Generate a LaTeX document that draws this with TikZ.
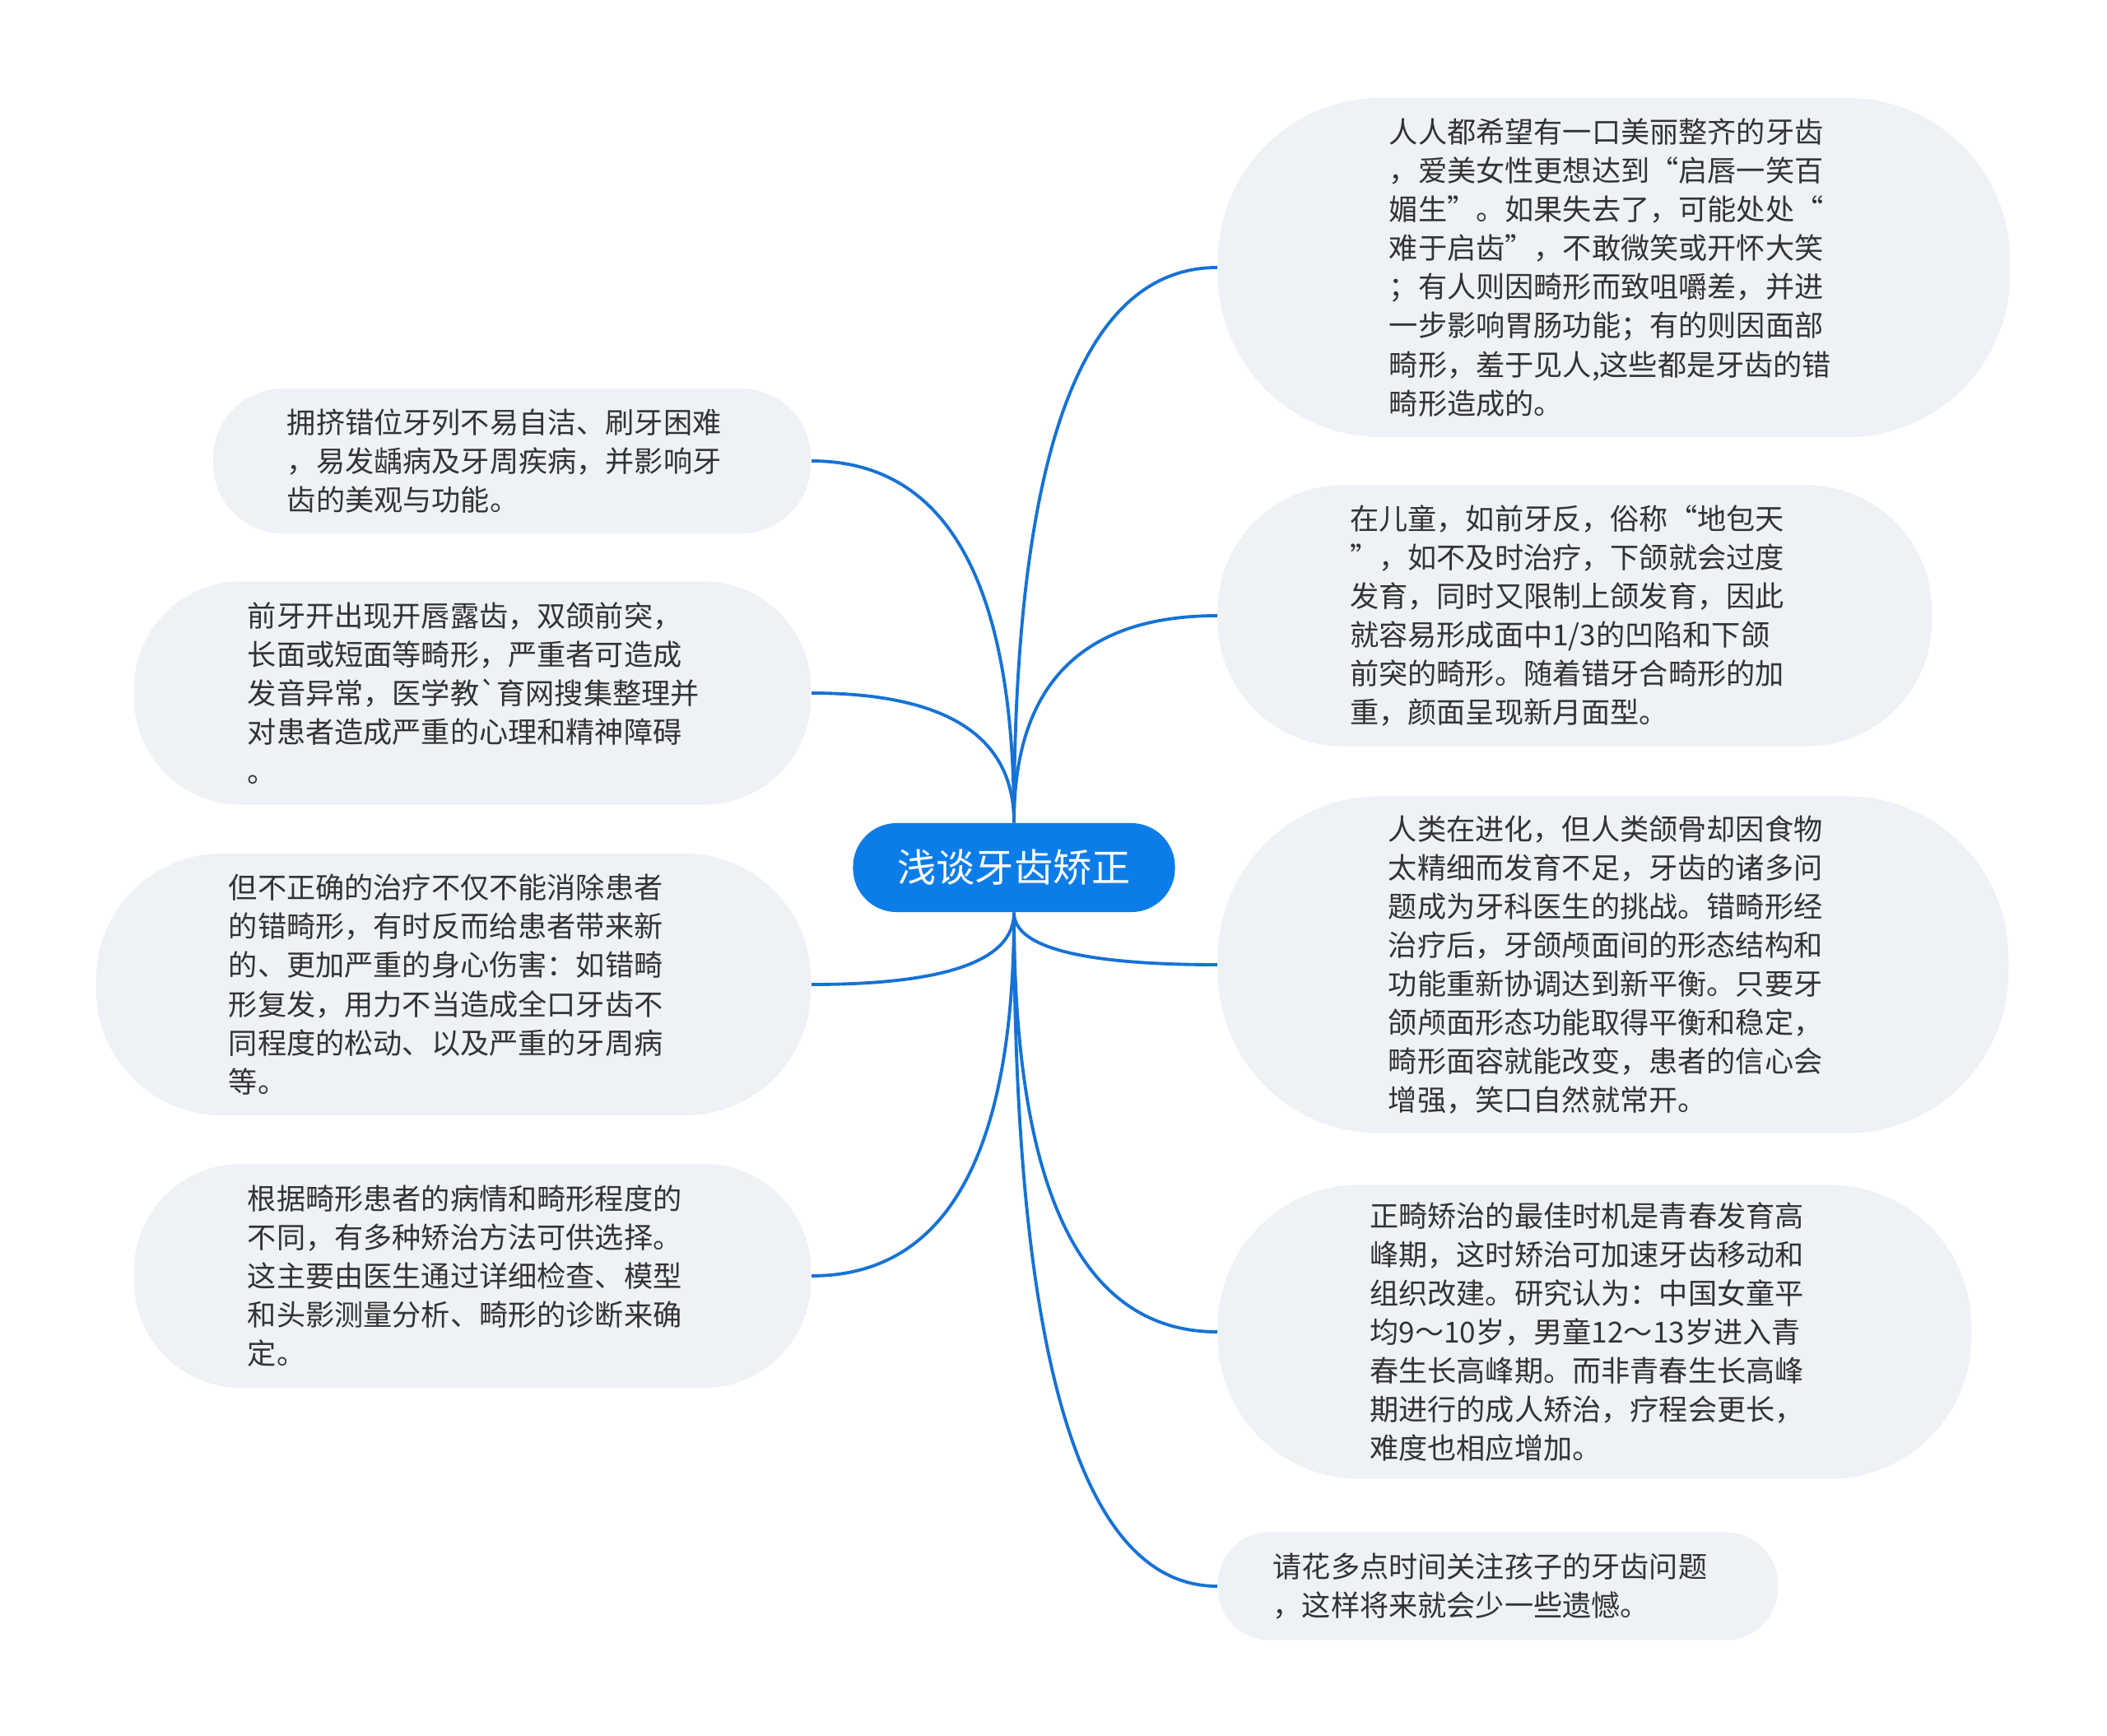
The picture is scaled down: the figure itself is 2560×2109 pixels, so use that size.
\documentclass[tikz,border=0pt]{standalone}
\usepackage{fontspec}
\newfontfamily\cjk{Noto Sans CJK SC}[Ligatures=TeXOff]
\usetikzlibrary{calc}

\definecolor{rootblue}{RGB}{12,125,232}
\definecolor{linkblue}{RGB}{22,114,214}
\definecolor{leafbg}{RGB}{238,241,245}
\definecolor{leaftext}{RGB}{51,51,51}

\tikzset{
	topic/.style={fill=rootblue, text=white, inner sep=0pt, font=\cjk\fontsize{13.4pt}{16pt}\selectfont,
		minimum width=3.91cm, minimum height=1.08cm, rounded corners=0.53cm},
	leaf/.style={fill=leafbg, text=leaftext, inner sep=0pt, align=left, text width=5.46cm,
		font=\cjk\fontsize{10pt}{13.4pt}\selectfont},
	branch/.style={draw=linkblue, line width=1.1pt,
		to path={.. controls ($(\tikztostart)!2/3!(\tikztostart|-\tikztotarget)$)
			and ($(\tikztotarget)!2/3!(\tikztostart|-\tikztotarget)$) .. (\tikztotarget)}}
}

\begin{document}
\begin{tikzpicture}[x=0.01cm, y=-0.01cm]
		
		\useasboundingbox (0,0) rectangle (2560,2109);
		
		% Root
		\node[topic] (root) at (1232,1054) {浅谈牙齿矫正};
		
		% Right side
		\node[leaf, anchor=west, minimum width=9.62cm, minimum height=4.12cm, rounded corners=1.98cm] (face) at (1479,325)
		{人人都希望有一口美丽整齐的牙齿\\，爱美女性更想达到“启唇一笑百\\媚生”。如果失去了，可能处处“\\难于启齿”，不敢微笑或开怀大笑\\；有人则因畸形而致咀嚼差，并进\\一步影响胃肠功能；有的则因面部\\畸形，羞于见人,这些都是牙齿的错\\畸形造成的。};
		
		\node[leaf, anchor=west, minimum width=8.67cm, minimum height=3.17cm, rounded corners=1.52cm] (child) at (1479,748)
		{在儿童，如前牙反，俗称“地包天\\”，如不及时治疗，下颌就会过度\\发育，同时又限制上颌发育，因此\\就容易形成面中1/3的凹陷和下颌\\前突的畸形。随着错牙合畸形的加\\重，颜面呈现新月面型。};
		
		\node[leaf, anchor=west, minimum width=9.60cm, minimum height=4.09cm, rounded corners=1.96cm] (evolve) at (1479,1172)
		{人类在进化，但人类颌骨却因食物\\太精细而发育不足，牙齿的诸多问\\题成为牙科医生的挑战。错畸形经\\治疗后，牙颌颅面间的形态结构和\\功能重新协调达到新平衡。只要牙\\颌颅面形态功能取得平衡和稳定，\\畸形面容就能改变，患者的信心会\\增强，笑口自然就常开。};
		
		\node[leaf, anchor=west, minimum width=9.15cm, minimum height=3.57cm, rounded corners=1.72cm] (timing) at (1479,1618)
		{正畸矫治的最佳时机是青春发育高\\峰期，这时矫治可加速牙齿移动和\\组织改建。研究认为：中国女童平\\均9～10岁，男童12～13岁进入青\\春生长高峰期。而非青春生长高峰\\期进行的成人矫治，疗程会更长，\\难度也相应增加。};
		
		\node[leaf, anchor=west, minimum width=6.80cm, minimum height=1.31cm, rounded corners=0.63cm] (advice) at (1479,1927)
		{请花多点时间关注孩子的牙齿问题\\，这样将来就会少一些遗憾。};
		
		% Left side
		\node[leaf, anchor=east, minimum width=7.26cm, minimum height=1.76cm, rounded corners=0.85cm] (clean) at (986,560)
		{拥挤错位牙列不易自洁、刷牙困难\\，易发龋病及牙周疾病，并影响牙\\齿的美观与功能。};
		
		\node[leaf, anchor=east, minimum width=8.22cm, minimum height=2.71cm, rounded corners=1.30cm] (speech) at (986,842)
		{前牙开出现开唇露齿，双颌前突，\\长面或短面等畸形，严重者可造成\\发音异常，医学教`育网搜集整理并\\对患者造成严重的心理和精神障碍\\。};
		
		\node[leaf, anchor=east, minimum width=8.68cm, minimum height=3.18cm, rounded corners=1.53cm] (harm) at (986,1196)
		{但不正确的治疗不仅不能消除患者\\的错畸形，有时反而给患者带来新\\的、更加严重的身心伤害：如错畸\\形复发，用力不当造成全口牙齿不\\同程度的松动、以及严重的牙周病\\等。};
		
		\node[leaf, anchor=east, minimum width=8.22cm, minimum height=2.72cm, rounded corners=1.30cm] (method) at (986,1550)
		{根据畸形患者的病情和畸形程度的\\不同，有多种矫治方法可供选择。\\这主要由医生通过详细检查、模型\\和头影测量分析、畸形的诊断来确\\定。};
		
		% Branches
		\draw[branch] (root.north) to (face.west);
		\draw[branch] (root.north) to (child.west);
		\draw[branch] (root.south) to (evolve.west);
		\draw[branch] (root.south) to (timing.west);
		\draw[branch] (root.south) to (advice.west);
		\draw[branch] (root.north) to (clean.east);
		\draw[branch] (root.north) to (speech.east);
		\draw[branch] (root.south) to (harm.east);
		\draw[branch] (root.south) to (method.east);
		
	\end{tikzpicture}
\end{document}
